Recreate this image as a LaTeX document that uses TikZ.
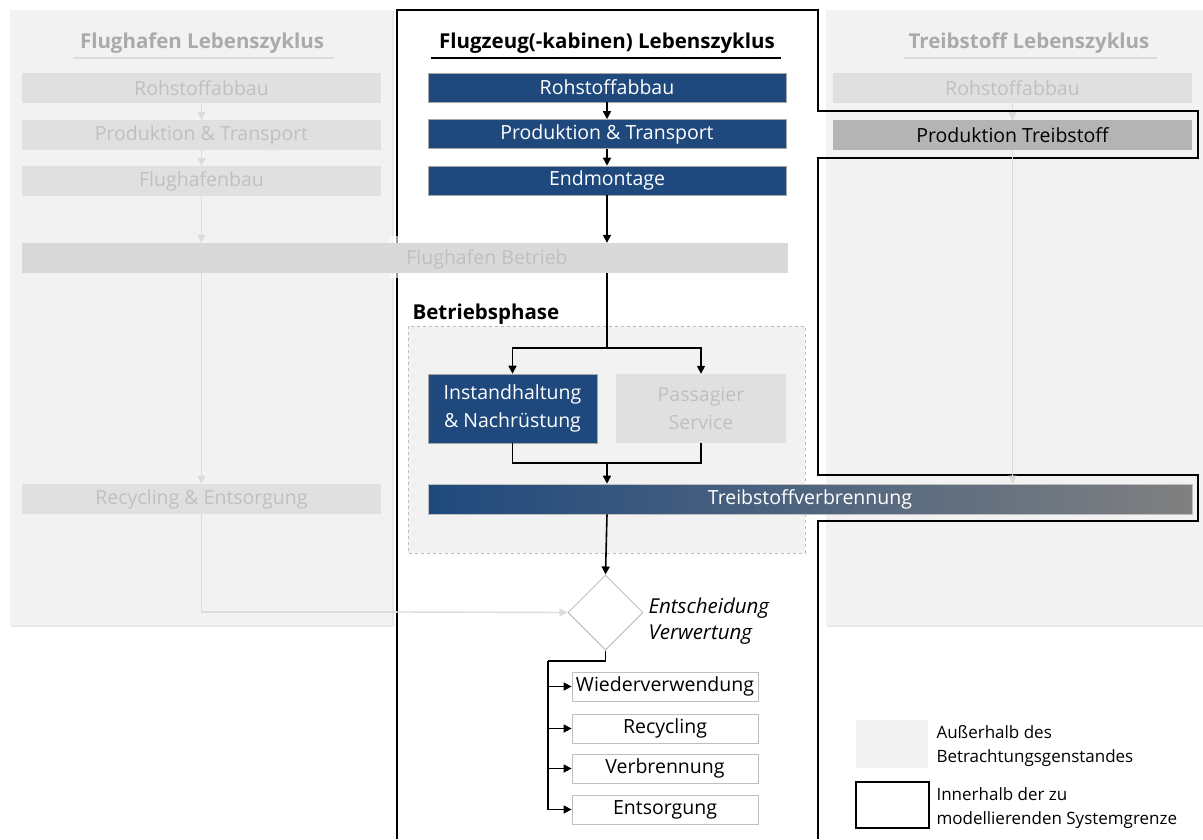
\documentclass[tikz,border=0pt]{standalone}
\usepackage{fontspec}
\setmainfont{Open Sans}
\usetikzlibrary{arrows.meta,shapes.geometric}
\definecolor{blueC}{RGB}{31,73,125}
\definecolor{panelC}{RGB}{242,242,242}
\definecolor{shadowC}{RGB}{232,232,232}
\definecolor{paleBox}{RGB}{224,224,224}
\definecolor{paleText}{RGB}{192,192,192}
\definecolor{titleGray}{RGB}{170,170,170}
\definecolor{betriebC}{RGB}{217,217,217}
\definecolor{prodC}{RGB}{180,180,180}
\definecolor{endGray}{RGB}{128,128,128}
\definecolor{paleLine}{RGB}{220,220,220}
\definecolor{dashC}{RGB}{190,190,190}
\begin{document}
\begin{tikzpicture}[x=1pt,y=-1pt,
  boxtext/.style={font=\fontsize{19.5}{28}\selectfont},
  titletext/.style={font=\fontsize{20.5}{24}\selectfont\bfseries},
  bluebox/.style={boxtext,fill=blueC,draw=black!35,line width=0.6pt,text=white,inner sep=0pt,align=center},
  palebox/.style={boxtext,fill=paleBox,text=paleText,inner sep=0pt,align=center},
  outbox/.style={boxtext,fill=white,draw=black!25,line width=0.8pt,text=black,inner sep=0pt},
  arr/.style={line width=1.6pt,-{Triangle[length=8pt,width=8pt]}},
  plain/.style={line width=1.6pt},
  palearr/.style={paleLine,line width=1.4pt,-{Triangle[length=8pt,width=8pt]}},
  paleline/.style={paleLine,line width=1.4pt},
  boundary/.style={black,line width=1.3pt}
]
\useasboundingbox (0,0) rectangle (1203,839);
\fill[white] (0,0) rectangle (1203,839);

% grey panels outside the system boundary
\fill[shadowC] (11,11) rectangle (394,627);
\fill[panelC] (10,10) rectangle (392,625);
\fill[shadowC] (827,11) rectangle (1203,627);
\fill[panelC] (826,10) rectangle (1203,625);

% airport life cycle
\node[titletext,text=titleGray] (tL) at (202,43) {Flughafen Lebenszyklus};
\draw[paleLine,line width=1.2pt] (73,58) -- (334,58);
\node[palebox,minimum width=359pt,minimum height=30pt] (l1) at (201.5,88) {Rohstoffabbau};
\node[palebox,minimum width=359pt,minimum height=30pt] (l2) at (201.5,135) {Produktion \& Transport};
\node[palebox,minimum width=359pt,minimum height=30pt] (l3) at (201.5,181) {Flughafenbau};
\node[palebox,minimum width=359pt,minimum height=30pt] (lrec) at (201.5,499) {Recycling \& Entsorgung};

% fuel life cycle
\node[titletext,text=titleGray] (tR) at (1029,43) {Treibstoff Lebenszyklus};
\draw[paleLine,line width=1.2pt] (904,58) -- (1157,58);
\node[palebox,minimum width=359pt,minimum height=30pt] (r1) at (1012.5,88) {Rohstoffabbau};
\draw[palearr] (r1.south) -- ++(0,17);

% system boundary
\draw[boundary] (397,839) -- (397,10) -- (818,10) -- (818,111) -- (1198,111) -- (1198,158)
  -- (818,158) -- (818,475) -- (1198,475) -- (1198,521) -- (818,521) -- (818,839);

\node[boxtext,fill=prodC,text=black,inner sep=0pt,minimum width=359pt,minimum height=30pt] (r2) at (1012.5,135) {Produktion Treibstoff};

% aircraft (cabin) life cycle
\node[titletext,text=black] (tC) at (607,43) {Flugzeug(-kabinen) Lebenszyklus};
\draw[black,line width=1.2pt] (431,58) -- (781,58);
\node[bluebox,minimum width=358pt,minimum height=29pt] (c1) at (607,87.5) {Rohstoffabbau};
\node[bluebox,minimum width=358pt,minimum height=29pt] (c2) at (607,134) {Produktion \& Transport};
\node[bluebox,minimum width=358pt,minimum height=29pt] (c3) at (607,180.5) {Endmontage};

% airport operation (spans across)
\fill[white,opacity=0.6] (390,236) rectangle (791,278);
\node[fill=betriebC,inner sep=0pt,minimum width=766pt,minimum height=30pt] (bet) at (405,258) {};
\node[boxtext,text=paleText] (betT) at (487,259) {Flughafen Betrieb};

% operating phase
\node[titletext,text=black,anchor=west] (bp) at (409,314) {Betriebsphase};
\draw[dashC,dashed,fill=panelC,line width=0.8pt] (408,326) rectangle (805,553);
\node[bluebox,minimum width=169pt,minimum height=69pt] (inst) at (512.5,408.5) {Instandhaltung\\\& Nachrüstung};
\node[palebox,minimum width=170pt,minimum height=69pt] (pas) at (701,408.5) {Passagier\\Service};

\node[boxtext,left color=blueC,right color=endGray,draw=black!25,line width=0.6pt,text=white,inner sep=0pt,minimum width=764pt,minimum height=30pt] (tv) at (810,499) {Treibstoffverbrennung};

% decision
\node[diamond,draw=black!25,fill=white,line width=1pt,minimum width=75pt,minimum height=75pt,inner sep=0pt] (dia) at (605.5,612.5) {};
\node[font=\fontsize{20.5}{26}\selectfont\itshape,anchor=west,align=left] (diaT) at (645,621) {Entscheidung\\Verwertung};

% end-of-life options
\node[outbox,minimum width=186pt,minimum height=29pt] (o1) at (665,686.5) {Wiederverwendung};
\node[outbox,minimum width=186pt,minimum height=29pt] (o2) at (665,728.5) {Recycling};
\node[outbox,minimum width=186pt,minimum height=29pt] (o3) at (665,768.5) {Verbrennung};
\node[outbox,minimum width=186pt,minimum height=29pt] (o4) at (665,809.5) {Entsorgung};

% pale connectors of the neighbouring life cycles
\draw[palearr] (l1) -- (l2);
\draw[palearr] (l2) -- (l3);
\draw[palearr] (l3.south) -- (l3.south |- bet.north);
\draw[palearr] (l3.south |- bet.south) -- (lrec.north);
\draw[paleline] (lrec.south) |- (397,612);
\draw[palearr] (397,612) -- (dia.west);
\draw[palearr] (r2.south) -- (r2.south |- tv.north);

% aircraft flow
\draw[arr] (c1) -- (c2);
\draw[arr] (c2) -- (c3);
\draw[arr] (c3.south) -- (c3.south |- bet.north);
\coordinate (split) at (607,348);
\coordinate (merge) at (607,463);
\draw[plain] (c3.south |- bet.south) -- (split);
\draw[arr] (split) -| (inst.north);
\draw[arr] (split) -| (pas.north);
\draw[plain] (inst.south) |- (merge) -| (pas.south);
\draw[arr] (merge) -- (merge |- tv.north);
\draw[arr] (merge |- tv.south) -- (dia.north);

\coordinate (fan) at (548,661);
\draw[plain] (dia.south) |- (fan);
\draw[arr] (fan) |- (o4.west);
\draw[arr] (fan |- o1.west) -- (o1.west);
\draw[arr] (fan |- o2.west) -- (o2.west);
\draw[arr] (fan |- o3.west) -- (o3.west);

% legend
\node[fill=panelC,inner sep=0pt,minimum width=72pt,minimum height=48pt] (lgA) at (892,744) {};
\node[draw=black,line width=1.2pt,fill=white,inner sep=0pt,minimum width=73pt,minimum height=46pt] (lgB) at (892.5,805) {};
\node[font=\fontsize{17}{24}\selectfont,anchor=west,align=left] (lgAT) at (933,746) {Außerhalb des\\Betrachtungsgenstandes};
\node[font=\fontsize{17}{24}\selectfont,anchor=west,align=left] (lgBT) at (933,808) {Innerhalb der zu\\modellierenden Systemgrenze};
\end{tikzpicture}
\end{document}
